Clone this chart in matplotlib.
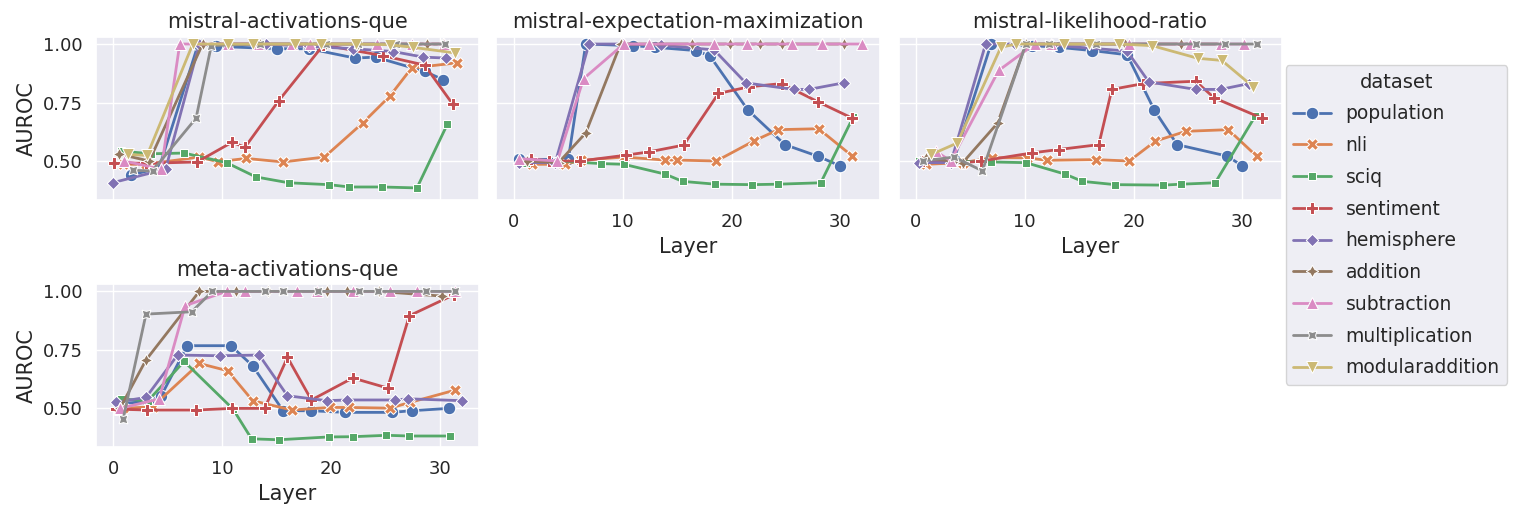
import numpy as np
import matplotlib
matplotlib.use("Agg")
import matplotlib.pyplot as plt
import seaborn as sns

sns.set_theme(style="darkgrid")
plt.rcParams['font.family'] = ['DejaVu Sans']

datasets = ['population', 'nli', 'sciq', 'sentiment', 'hemisphere', 'addition',
            'subtraction', 'multiplication', 'modularaddition']
panels = ['mistral-activations-que', 'mistral-expectation-maximization',
          'mistral-likelihood-ratio', 'meta-activations-que']

# mistral-activations-que
p1_layers = {
    'population': [1.6, 4.2, 7.8, 9.4, 15, 18, 22.2, 24.1, 28.6, 30.3],
    'nli': [0.9, 3.0, 7.9, 9.6, 12.2, 15.6, 19.4, 22.9, 25.4, 27.4, 31.6],
    'sciq': [0.7, 3.5, 6.5, 10.4, 13.1, 16.1, 19.8, 21.7, 24.7, 27.9, 30.7],
    'sentiment': [0.1, 3.0, 7.7, 10.9, 12.1, 15.2, 19.3, 24.8, 28.6, 31.2],
    'hemisphere': [0, 4.8, 7.9, 10.5, 14, 18, 22, 25.7, 28.5, 30.6],
    'addition': [0.5, 3.3, 8.2, 10.5, 13.5, 19.5, 22.5, 28.8, 30.3],
    'subtraction': [1.0, 4.4, 6.1, 10.5, 13.3, 16.4, 18.1, 24.2, 27.4, 30.4],
    'multiplication': [1.8, 3.6, 7.6, 9.0, 13.5, 19.5, 22.5, 26, 30.5],
    'modularaddition': [1.3, 3.1, 7.3, 10.5, 12.8, 16.7, 19.1, 22.3, 25.4, 27.5, 31.4],
}
p1_auroc = {
    'population': [0.44, 0.47, 1.0, 0.99, 0.98, 0.98, 0.94, 0.944, 0.883, 0.848],
    'nli': [0.486, 0.486, 0.517, 0.497, 0.511, 0.496, 0.517, 0.662, 0.777, 0.897, 0.92],
    'sciq': [0.542, 0.531, 0.534, 0.493, 0.432, 0.407, 0.399, 0.389, 0.389, 0.385, 0.658],
    'sentiment': [0.493, 0.49, 0.496, 0.58, 0.559, 0.758, 0.996, 0.95, 0.91, 0.742],
    'hemisphere': [0.408, 0.465, 1.0, 1.0, 1.0, 0.99, 0.98, 0.968, 0.944, 0.94],
    'addition': [0.53, 0.5, 1.0, 1.0, 1.0, 1.0, 1.0, 1.0, 1.0],
    'subtraction': [0.5, 0.465, 1.0, 1.0, 1.0, 1.0, 1.0, 1.0, 1.0, 1.0],
    'multiplication': [0.46, 0.458, 0.683, 0.993, 1.0, 1.0, 1.0, 1.0, 1.0],
    'modularaddition': [0.528, 0.524, 1.0, 1.0, 1.0, 1.0, 1.0, 1.0, 0.997, 0.986, 0.962],
}

# mistral-expectation-maximization
p2_layers = {
    'population': [0.5, 5.0, 6.6, 10.9, 13.0, 16.7, 18.0, 21.5, 24.9, 27.9, 30.0],
    'nli': [1.7, 4.7, 6.2, 10.1, 13.9, 15.0, 18.6, 22.1, 24.3, 28.0, 31.1],
    'sciq': [1.1, 4.0, 8.0, 10.1, 13.9, 15.5, 18.5, 21.9, 24.3, 28.2, 31.2],
    'sentiment': [1.6, 3.2, 6.1, 10.3, 12.4, 15.6, 18.8, 21.6, 24.6, 27.9, 31.1],
    'hemisphere': [0.5, 3.8, 6.9, 10.0, 13.5, 18.4, 21.3, 25.7, 27.1, 30.3],
    'addition': [1.2, 4.1, 6.6, 9.8, 16.4, 19.9, 22.6, 24.6, 28.3, 30.3],
    'subtraction': [0.5, 4.0, 6.4, 10.1, 12.4, 18.4, 21.4, 25.6, 28.3, 32.0],
}
p2_auroc = {
    'population': [0.507, 0.507, 1.0, 0.993, 0.986, 0.972, 0.95, 0.718, 0.57, 0.521, 0.479],
    'nli': [0.486, 0.486, 0.503, 0.517, 0.504, 0.504, 0.5, 0.587, 0.634, 0.638, 0.521],
    'sciq': [0.493, 0.5, 0.489, 0.486, 0.444, 0.413, 0.401, 0.399, 0.401, 0.407, 0.69],
    'sentiment': [0.51, 0.5, 0.5, 0.525, 0.539, 0.568, 0.789, 0.817, 0.831, 0.754, 0.683],
    'hemisphere': [0.493, 0.493, 1.0, 1.0, 0.995, 0.975, 0.834, 0.806, 0.806, 0.834],
    'addition': [0.5, 0.493, 0.62, 1.0, 1.0, 1.0, 1.0, 1.0, 1.0, 1.0],
    'subtraction': [0.51, 0.5, 0.852, 1.0, 1.0, 1.0, 1.0, 1.0, 1.0, 1.0],
}

# mistral-likelihood-ratio
p3_layers = {
    'population': [0.6, 3.5, 6.9, 10.7, 13.1, 16.2, 19.4, 21.9, 24.0, 28.6, 30.0],
    'nli': [0.9, 4.3, 7.0, 10.2, 12.0, 16.5, 19.6, 22.0, 24.8, 28.7, 31.3],
    'sciq': [0.3, 3.5, 6.9, 10.1, 13.7, 15.3, 18.3, 22.7, 24.4, 27.5, 31.2],
    'sentiment': [0.6, 4.3, 6.0, 10.7, 13.1, 16.8, 18.0, 20.9, 25.7, 27.4, 31.8],
    'hemisphere': [0.3, 3.2, 6.4, 9.1, 12.5, 19.4, 21.4, 25.7, 28.0, 30.6],
    'addition': [0.9, 4.3, 7.5, 10.1, 15.9, 19.2, 24.4, 28.0],
    'subtraction': [1.8, 3.2, 7.6, 10.9, 12.4, 19.6, 25.2, 28.0, 30.1],
    'multiplication': [0.6, 3.5, 6.1, 10.1, 12.2, 16.5, 21.7, 25.7, 28.4, 31.3],
    'modularaddition': [1.4, 3.8, 7.8, 9.2, 13.6, 15.9, 18.7, 21.7, 25.9, 28.1, 31.0],
}
p3_auroc = {
    'population': [0.5, 0.507, 1.0, 0.993, 0.986, 0.972, 0.954, 0.718, 0.57, 0.521, 0.479],
    'nli': [0.486, 0.493, 0.514, 0.514, 0.503, 0.506, 0.5, 0.585, 0.627, 0.634, 0.521],
    'sciq': [0.5, 0.5, 0.496, 0.493, 0.444, 0.413, 0.399, 0.397, 0.401, 0.407, 0.694],
    'sentiment': [0.5, 0.493, 0.5, 0.535, 0.549, 0.57, 0.806, 0.831, 0.841, 0.77, 0.683],
    'hemisphere': [0.493, 0.493, 1.0, 1.0, 0.995, 0.97, 0.838, 0.806, 0.806, 0.831],
    'addition': [0.514, 0.493, 0.662, 1.0, 1.0, 1.0, 1.0, 1.0],
    'subtraction': [0.542, 0.5, 0.887, 1.0, 1.0, 1.0, 1.0, 1.0, 1.0],
    'multiplication': [0.5, 0.517, 0.458, 1.0, 1.0, 1.0, 1.0, 1.0, 1.0, 1.0],
    'modularaddition': [0.528, 0.577, 0.986, 1.0, 1.0, 1.0, 1.0, 0.993, 0.939, 0.93, 0.817],
}

# meta-activations-que
p4_layers = {
    'population': [0.5, 3.2, 4.4, 6.8, 10.8, 12.8, 15.6, 18.2, 21.3, 25.6, 27.4, 30.8],
    'nli': [0.9, 3.6, 7.9, 10.5, 12.8, 16.4, 19.9, 21.7, 25.4, 27.3, 31.4],
    'sciq': [0.7, 3.2, 6.5, 11.0, 12.7, 15.2, 19.8, 22.0, 25.1, 27.2, 30.9],
    'sentiment': [0.2, 3.1, 7.6, 10.9, 13.9, 16.0, 18.2, 22.0, 25.2, 27.2, 31.3],
    'hemisphere': [0.2, 3.0, 5.9, 9.8, 13.4, 16.0, 19.6, 21.5, 25.9, 27.1, 32.0],
    'addition': [0.6, 3.0, 7.9, 11.3, 14.2, 19.6, 21.5, 24.4, 30.2],
    'subtraction': [0.6, 4.2, 6.6, 10.4, 12.1, 16.9, 18.7, 22.0, 25.4, 27.9, 31.4],
    'multiplication': [0.9, 3.0, 7.2, 9.1, 13.9, 15.6, 18.8, 22.6, 24.3, 28.7, 31.4],
}
p4_auroc = {
    'population': [0.52, 0.53, 0.554, 0.768, 0.768, 0.682, 0.49, 0.49, 0.483, 0.483, 0.49, 0.5],
    'nli': [0.5, 0.507, 0.692, 0.661, 0.533, 0.493, 0.504, 0.504, 0.501, 0.526, 0.578],
    'sciq': [0.54, 0.533, 0.701, 0.497, 0.37, 0.366, 0.378, 0.379, 0.385, 0.382, 0.382],
    'sentiment': [0.497, 0.493, 0.493, 0.5, 0.5, 0.718, 0.536, 0.63, 0.587, 0.896, 0.986],
    'hemisphere': [0.526, 0.547, 0.728, 0.725, 0.728, 0.554, 0.533, 0.536, 0.536, 0.541, 0.533],
    'addition': [0.5, 0.707, 1.0, 1.0, 1.0, 1.0, 1.0, 1.0, 0.98],
    'subtraction': [0.5, 0.54, 0.939, 1.0, 1.0, 1.0, 1.0, 1.0, 1.0, 1.0, 1.0],
    'multiplication': [0.455, 0.903, 0.913, 1.0, 1.0, 1.0, 1.0, 1.0, 1.0, 1.0, 1.0],
}

colors = sns.color_palette("deep", len(datasets))
# seaborn default marker sequence
markers = ["o", "X", (4, 0, 45), "P", (4, 0, 0), (4, 1, 0), "^", (4, 1, 45), "v"]

fig = plt.figure(figsize=(15.23, 5.23), dpi=100)
w, h = 0.2515, 0.312
ax1 = fig.add_axes([0.063, 0.618, w, h])
ax2 = fig.add_axes([0.326, 0.618, w, h], sharex=ax1, sharey=ax1)
ax3 = fig.add_axes([0.590, 0.618, w, h], sharex=ax1, sharey=ax1)
ax4 = fig.add_axes([0.063, 0.145, w, h], sharex=ax1, sharey=ax1)
axes = [ax1, ax2, ax3, ax4]
data = [(p1_layers, p1_auroc), (p2_layers, p2_auroc), (p3_layers, p3_auroc), (p4_layers, p4_auroc)]

for ax, title, (lay, auc) in zip(axes, panels, data):
    for i, ds in enumerate(datasets):
        if ds not in lay:
            continue
        ax.plot(lay[ds], auc[ds], color=colors[i], marker=markers[i], lw=2,
                ms=9, mec='w', mew=0.75)
    ax.set_title(title, fontsize=15)

handles = []
for i, ds in enumerate(datasets):
    handles.append(plt.Line2D([], [], color=colors[i], marker=markers[i], lw=2,
                              ms=9, mec='w', mew=0.75, label=ds))

ax1.set_yticks([0.5, 0.75, 1.0])
ax1.set_yticklabels(['0.50', '0.75', '1.00'])
ax1.set_xticks([0, 10, 20, 30])
for ax in axes:
    ax.tick_params(labelsize=13)
ax1.tick_params(labelbottom=False)
ax2.tick_params(labelleft=False)
ax3.tick_params(labelleft=False)
ax1.set_ylabel("AUROC", fontsize=15)
ax4.set_ylabel("AUROC", fontsize=15)
for ax in [ax2, ax3, ax4]:
    ax.set_xlabel("Layer", fontsize=15)

leg = fig.legend(handles=handles, title="dataset", loc='center left',
                 bbox_to_anchor=(0.838, 0.57), fontsize=13.5, title_fontsize=14,
                 frameon=True, handlelength=2.0, labelspacing=0.68)

fig.savefig("out.png", dpi=100)
